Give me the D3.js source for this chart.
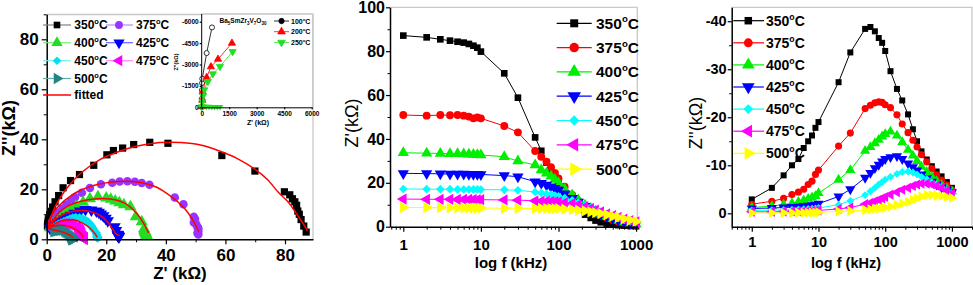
<!DOCTYPE html>
<html>
<head>
<meta charset="utf-8">
<script src="https://cdn.jsdelivr.net/npm/d3@7"></script>
<style>
  body { margin: 0; background: #fff; }
  svg { display: block; font-family: "Liberation Sans", Arial, sans-serif; }
  .axis path, .axis line { stroke: #000; }
</style>
</head>
<body>
<div id="chart"></div>
<script>
// ---- data ----
const temps = ["350", "375", "400", "425", "450", "475", "500"];
const freq = [1, 2, 3, 4, 5, 6, 7, 8, 9, 10, 20, 30, 50, 60, 70, 80, 90, 100, 120, 150, 180, 220, 260, 300, 350, 420, 500, 590, 700, 840, 1000];

// Z' (kOhm) per temperature
const zRe350 = [87.1, 86.3, 85.4, 84.8, 84.3, 83.9, 83.3, 82.5, 81.6, 79.8, 69.9, 58.8, 40.7, 34.6, 29.2, 25.5, 22.4, 20.2, 15.8, 11, 8, 5.5, 4, 2.8, 2, 1.4, 1, 0.7, 0.5, 0.35, 0.25];
const zRe375 = [50.9, 50.6, 50.9, 50.8, 50.9, 50.6, 50.2, 49.4, 49.8, 49.4, 45.9, 43, 34.5, 31.9, 29.6, 27.1, 24.5, 22, 18.2, 14.5, 11.8, 9.5, 8, 6.6, 5.3, 4.1, 3.1, 2.4, 1.8, 1.3, 0.9];
const zRe400 = [33.7, 33.5, 33.4, 33.3, 33.2, 33.1, 33, 32.9, 32.8, 32.7, 31.9, 29.9, 28.1, 25.9, 24.4, 23, 21.5, 20, 17.2, 14.5, 12.2, 9.8, 8.3, 7, 5.8, 4.7, 3.7, 2.9, 2.2, 1.6, 1.1];
const zRe425 = [24.3, 24.2, 24.1, 24, 24, 24, 23.9, 23.9, 23.9, 23.8, 23.3, 22.8, 20.5, 19.8, 19, 18.2, 17.5, 16.7, 15, 13, 11.2, 9.3, 8, 6.8, 5.7, 4.6, 3.7, 2.9, 2.2, 1.6, 1.1];
const zRe450 = [17.2, 17.1, 17.1, 17.1, 17, 17, 17, 17, 17, 16.9, 16.8, 16.6, 15.8, 15.4, 15, 14.6, 14.2, 13.8, 13, 12, 11, 9.7, 8.7, 7.8, 6.8, 5.8, 4.8, 3.9, 3.1, 2.4, 1.7];
const zRe475 = [12.6, 12.5, 12.5, 12.5, 12.4, 12.4, 12.4, 12.4, 12.3, 12.3, 12.2, 12.1, 11.8, 11.7, 11.6, 11.5, 11.4, 11.3, 11, 10.5, 10, 9.1, 8.3, 7.6, 6.7, 5.8, 5, 4.2, 3.5, 2.8, 2.2];
const zRe500 = [8.8, 8.7, 8.7, 8.6, 8.6, 8.6, 8.5, 8.5, 8.5, 8.5, 8.4, 8.4, 8.3, 8.3, 8.3, 8.2, 8.2, 8.2, 8, 7.8, 7.5, 7.2, 6.8, 6.4, 6, 5.4, 4.8, 4.2, 3.6, 3, 2.4];

// -Z'' (kOhm) per temperature
const zIm350 = [2.9, 5.3, 7.9, 10, 11.3, 13.6, 15, 16.2, 17.8, 19, 27.3, 33.5, 38.4, 38.8, 37.9, 36.5, 35.5, 33.8, 29.6, 25.9, 23.5, 20.6, 17.5, 15, 12.9, 11.2, 9.8, 8.7, 7.7, 6.5, 5.3];
const zIm375 = [1.9, 2.5, 3.1, 3.9, 4.4, 5, 6, 6.7, 8.1, 9, 14, 16.7, 21.8, 22.5, 23, 23.2, 23.1, 22.6, 22, 20.5, 18.6, 16.8, 15.2, 13.8, 12.2, 10.7, 9.3, 8, 6.9, 5.9, 4.9];
const zIm400 = [1.2, 1.5, 1.8, 2.1, 2.4, 2.7, 3, 3.3, 3.6, 4.2, 7, 9, 13, 13.8, 14.6, 15.3, 16, 16.5, 17, 16.2, 14.8, 13.2, 12, 10.9, 9.7, 8.6, 7.6, 6.7, 5.9, 5.2, 4.6];
const zIm425 = [1, 1.1, 1.2, 1.3, 1.4, 1.5, 1.6, 1.7, 1.8, 2, 3.5, 5, 7.4, 8.4, 9.4, 10.1, 10.8, 11.3, 11.7, 11.9, 11.3, 10.4, 9.6, 8.9, 8.1, 7.3, 6.6, 6, 5.4, 4.9, 4.4];
const zIm450 = [0.6, 0.65, 0.7, 0.75, 0.8, 0.85, 0.9, 0.95, 1, 1.1, 1.8, 2.6, 3.8, 4.6, 5.3, 6, 6.5, 7, 7.6, 8.2, 8.6, 8.7, 8.5, 8.1, 7.6, 7.1, 6.5, 6, 5.4, 4.8, 4.2];
const zIm475 = [0.3, 0.3, 0.35, 0.4, 0.4, 0.45, 0.5, 0.5, 0.55, 0.6, 0.9, 1.2, 1.9, 2.2, 2.5, 2.8, 3.1, 3.4, 3.9, 4.4, 4.9, 5.3, 5.7, 6, 6.2, 6.2, 6, 5.7, 5.3, 4.7, 4.1];
const zIm500 = [0.05, 0.06, 0.07, 0.08, 0.1, 0.1, 0.12, 0.13, 0.15, 0.2, 0.4, 0.5, 0.7, 0.8, 0.9, 1, 1.1, 1.2, 1.4, 1.7, 2, 2.4, 2.8, 3.1, 3.5, 3.8, 3.8, 3.7, 3.6, 3.4, 3.2];

// fitted Nyquist arcs [Z', -Z'']
const fit350 = [[0.5, 4.4], [1.5, 9], [3, 13.5], [5, 17.5], [7.5, 21.5], [12, 27], [18, 32], [24, 35], [30, 37.2], [38, 38.7], [45, 38.7], [52, 37.6], [58, 35.3], [64, 32.3], [70, 28], [74, 24], [78, 18.5], [81, 15], [84, 10], [86, 6.5], [87.5, 3.5]];
const fit375 = [[0.5, 4.4], [1.1, 8.4], [3.9, 13.1], [8.4, 17.7], [14.6, 21.1], [21.3, 22.8], [27, 23.2], [32, 22.6], [36.5, 21], [40.3, 18.4], [43.5, 15.5], [46.5, 12], [48.7, 8.4], [50.2, 5.2], [51, 3]];
const fit400 = [[0.5, 4.4], [1.5, 6.5], [3.9, 10.4], [6.7, 13.1], [11.2, 15.1], [16.8, 16.2], [21.3, 16.1], [26.3, 14.4], [30.2, 10.4], [32.5, 6.5], [34.2, 2.5]];
const fit425 = [[0.5, 4.4], [2, 7], [4.5, 9.3], [8, 11], [11.5, 11.5], [15, 11], [18, 9.5], [20.7, 6.5], [22.5, 3.5], [23.5, 2], [24.5, 1.5]];
const fit450 = [[0.5, 4.4], [3, 6.5], [6, 7.6], [9, 7.8], [12, 6.5], [14.5, 4.5], [16, 2.5], [17, 0.8]];
const fit475 = [[0.5, 4.4], [2.5, 5.3], [5, 5.6], [7.5, 5.2], [10, 3.8], [11.5, 2.2], [12.3, 0.8]];
const fit500 = [[0.5, 4.4], [2, 3.8], [4, 3.3], [6, 2.6], [7.8, 1.7], [8.9, 0.8]];

// inset (low temperature) [Z', Z'']
const ins100 = [[0, -30], [10, -600], [15, -1200], [20, -1700], [30, -2000], [270, -3800], [560, -5600]];
const ins200 = [[0, -50], [30, -500], [50, -1100], [270, -2100], [505, -2840], [890, -3375], [1650, -4500]];
const ins250 = [[0, -30], [40, -400], [70, -800], [135, -1220], [337, -1800], [607, -2340], [994, -2860], [1685, -3900]];
const insHigh = [[100, -60], [250, -50], [400, -45], [550, -40], [700, -35], [850, -30], [1000, -25]];

const zRe = [zRe350, zRe375, zRe400, zRe425, zRe450, zRe475, zRe500];
const zIm = [zIm350, zIm375, zIm400, zIm425, zIm450, zIm475, zIm500];
const fits = [fit350, fit375, fit400, fit425, fit450, fit475, fit500];

const shapes = ["square", "circle", "up", "down", "diamond", "left", "right"];
const colNyq = ["#000000", "#9933ff", "#22dd22", "#0000ff", "#00e0ee", "#ff00ff", "#1f8585"];
const colNyqLeg = ["#808080", "#bb88ff", "#77ee77", "#6666ff", "#77eeee", "#ff88ff", "#66aaaa"];
const colF = ["#000000", "#ff0000", "#00ee00", "#0000ff", "#00ffff", "#ff00ff", "#ffff00"];

// ---- helpers ----
const W = 973, H = 285;
const svg = d3.select("#chart").append("svg").attr("width", W).attr("height", H);

function marker(shape, k) {
    const base = { square: [d3.symbolSquare, 40, 0], circle: [d3.symbolCircle, 44, 0],
        up: [d3.symbolTriangle, 50, 0], down: [d3.symbolTriangle, 50, 180],
        left: [d3.symbolTriangle, 50, -90], right: [d3.symbolTriangle, 50, 90],
        diamond: [d3.symbolSquare, 34, 45] }[shape];
    return { d: d3.symbol().type(base[0]).size(base[1] * k)(), rot: base[2] };
}

function drawMarkers(g, pts, shape, k, fill, stroke) {
    const m = marker(shape, k);
    g.selectAll(null).data(pts).enter().append("path")
        .attr("d", m.d)
        .attr("transform", d => `translate(${d[0]},${d[1]}) rotate(${m.rot})`)
        .attr("fill", fill)
        .attr("stroke", stroke || "none")
        .attr("stroke-width", 0.8);
}

function degLabel(g, x, y, num, fs) {
    const t = g.append("text").attr("x", x).attr("y", y)
        .attr("font-size", fs).attr("font-weight", "bold").attr("fill", "#000");
    t.append("tspan").text(num);
    t.append("tspan").attr("dy", -0.42 * fs).attr("font-size", fs * 0.62).text("o");
    t.append("tspan").attr("dy", 0.42 * fs).text("C");
    return t;
}

function frame(x0, x1, y0, y1) {
    svg.append("polyline")
        .attr("points", `${x0},${y0} ${x1},${y0} ${x1},${y1}`)
        .attr("fill", "none").attr("stroke", "#c8c8c8").attr("stroke-width", 1.3);
}

function styleAxis(g, fs, weight) {
    g.attr("class", "axis");
    g.select(".domain").attr("stroke-width", 1.5);
    g.selectAll(".tick line").attr("stroke-width", 1.2);
    g.selectAll("text").attr("font-size", fs).attr("font-weight", weight || "bold")
        .attr("font-family", "Liberation Sans, Arial, sans-serif").attr("fill", "#000");
}

function minorAxis(axisFn, scale, vals, size, tr) {
    svg.append("g").attr("transform", tr)
        .call(axisFn(scale).tickValues(vals).tickSize(size).tickFormat("").tickSizeOuter(0))
        .call(g => g.select(".domain").remove())
        .selectAll("line").attr("stroke", "#000").attr("stroke-width", 1);
}

function logMinors(lo, hi) {
    const out = [];
    for (let e = -1; e <= 3; e++) {
        for (let m = 2; m <= 9; m++) {
            const v = m * Math.pow(10, e);
            if (v >= lo && v <= hi) out.push(v);
        }
    }
    return out;
}

// ================= Panel 1: Nyquist =================
const x1 = d3.scaleLinear().domain([0, 89.4]).range([46.7, 313]);
const y1 = d3.scaleLinear().domain([0, 90]).range([239.3, 14.3]);
frame(46.7, 313, 14.5, 239.3);

const p1 = svg.append("g");
temps.forEach((t, i) => {
    const pts = zRe[i].map((v, j) => [v, zIm[i][j]]);
    drawMarkers(p1, pts.map(d => [x1(d[0]), y1(d[1])]), shapes[i], 1.3, colNyq[i]);
});
const fitLine = d3.line().x(d => x1(d[0])).y(d => y1(d[1])).curve(d3.curveCatmullRom.alpha(0.5));
fits.forEach(f => {
    p1.append("path").datum(f).attr("d", fitLine).attr("fill", "none")
        .attr("stroke", "#ff0000").attr("stroke-width", 1.5);
});

const ax1b = svg.append("g").attr("transform", "translate(0,239.3)")
    .call(d3.axisBottom(x1).tickValues([0, 20, 40, 60, 80]).tickSize(5).tickPadding(5).tickSizeOuter(0));
styleAxis(ax1b, 17);
const ax1l = svg.append("g").attr("transform", "translate(46.7,0)")
    .call(d3.axisLeft(y1).tickValues([0, 20, 40, 60, 80]).tickSize(5).tickPadding(3).tickSizeOuter(0));
styleAxis(ax1l, 17);
minorAxis(d3.axisBottom, x1, [10, 30, 50, 70], 3, "translate(0,239.3)");
minorAxis(d3.axisLeft, y1, [10, 30, 50, 70, 90], 3, "translate(46.7,0)");

svg.append("text").attr("x", 180).attr("y", 279).attr("text-anchor", "middle")
    .attr("font-size", 17).attr("font-weight", "bold").text("Z' (k\u03A9)");
svg.append("text").attr("transform", "translate(15,128) rotate(-90)").attr("text-anchor", "middle")
    .attr("font-size", 18).attr("font-weight", "bold").text("Z''(k\u03A9)");

// legend panel 1
const leg1 = svg.append("g");
const leg1Pos = [[0, 25], [1, 25], [0, 42.7], [1, 42.7], [0, 60.7], [1, 60.7], [0, 78.5]];
const leg1Cols = [{ l0: 43, l1: 71, m: 57, t: 74.3 }, { l0: 106, l1: 133, m: 119, t: 136 }];
temps.forEach((t, i) => {
    const c = leg1Cols[leg1Pos[i][0]], y = leg1Pos[i][1];
    leg1.append("line").attr("x1", c.l0).attr("x2", c.l1).attr("y1", y).attr("y2", y)
        .attr("stroke", colNyqLeg[i]).attr("stroke-width", 1.2);
    drawMarkers(leg1, [[c.m, y]], shapes[i], 1.1, colNyq[i]);
    degLabel(leg1, c.t, y + 4.3, t, 12);
});
leg1.append("line").attr("x1", 43).attr("x2", 71).attr("y1", 95).attr("y2", 95)
    .attr("stroke", "#ff0000").attr("stroke-width", 1.5);
leg1.append("text").attr("x", 74.3).attr("y", 99.3).attr("font-size", 12).attr("font-weight", "bold").text("fitted");

// ---- inset ----
const xi = d3.scaleLinear().domain([0, 6000]).range([201.7, 311.7]);
const yi = d3.scaleLinear().domain([0, -6000]).range([107.3, 21.7]);
svg.append("rect").attr("x", 201.7).attr("y", 14).attr("width", 111).attr("height", 93.3).attr("fill", "#fff");
frame(201.7, 312.7, 14, 107.3);
const pi = svg.append("g");
const lineI = d3.line().x(d => xi(d[0])).y(d => yi(d[1]));
[[ins100, "#000000", "circle", "#fff"], [ins200, "#ff0000", "up", "#ff0000"], [ins250, "#22dd22", "down", "#22dd22"]].forEach(s => {
    pi.append("path").datum(s[0]).attr("d", lineI).attr("fill", "none").attr("stroke", s[1]).attr("stroke-width", 0.8);
    drawMarkers(pi, s[0].map(d => [xi(d[0]), yi(d[1])]), s[2], 0.45, s[3], s[1]);
});
pi.append("path").datum(insHigh).attr("d", lineI).attr("fill", "none").attr("stroke", "#22dd22").attr("stroke-width", 0.8);
drawMarkers(pi, insHigh.map(d => [xi(d[0]), yi(d[1])]), "down", 0.35, "#22dd22");

const axib = svg.append("g").attr("transform", "translate(0,107.3)")
    .call(d3.axisBottom(xi).tickValues([0, 1500, 3000, 4500, 6000]).tickFormat(d => String(d))
        .tickSize(2).tickPadding(2).tickSizeOuter(0));
styleAxis(axib, 6.5);
const axil = svg.append("g").attr("transform", "translate(201.7,0)")
    .call(d3.axisLeft(yi).tickValues([0, -1500, -3000, -4500, -6000]).tickFormat(d => String(d))
        .tickSize(2).tickPadding(1).tickSizeOuter(0));
styleAxis(axil, 6.5);
axib.select(".domain").attr("stroke-width", 1);
axil.select(".domain").attr("d", "M0,107.3V14").attr("stroke-width", 1);
svg.append("text").attr("x", 258).attr("y", 125).attr("text-anchor", "middle")
    .attr("font-size", 7).attr("font-weight", "bold").text("Z' (k\u03A9)");
svg.append("text").attr("transform", "translate(178,62) rotate(-90)").attr("text-anchor", "middle")
    .attr("font-size", 5.5).attr("font-weight", "bold").text("Z''(k\u03A9)");
const ti = svg.append("text").attr("x", 219.5).attr("y", 23).attr("font-size", 6.5).attr("font-weight", "bold");
[["Ba", 0], ["5", 1], ["SmZr", 0], ["3", 1], ["V", 0], ["7", 1], ["O", 0], ["30", 1]].forEach(p => {
    ti.append("tspan").attr("font-size", p[1] ? 4.5 : 6.5).attr("dy", p[1] ? 1.5 : -1.5).text(p[0]);
});
ti.select("tspan").attr("dy", 0);
const legI = svg.append("g");
[["100", "#000000", "circle", "#000"], ["200", "#ff0000", "up", "#ff0000"], ["250", "#22dd22", "down", "#22dd22"]].forEach((s, i) => {
    const y = 21 + i * 10.7;
    legI.append("line").attr("x1", 274).attr("x2", 289).attr("y1", y).attr("y2", y).attr("stroke", s[1]).attr("stroke-width", 0.8);
    drawMarkers(legI, [[281.5, y]], s[2], 0.5, s[3], s[1]);
    degLabel(legI, 291, y + 2.5, s[0], 7);
});

// ================= Panel 2: Z' vs log f =================
const x2 = d3.scaleLog().domain([0.674, 1036]).range([390, 637.3]);
const y2 = d3.scaleLinear().domain([0, 100]).range([226.7, 7.3]);
frame(390, 637.3, 7.3, 226.7);
const p2 = svg.append("g");
const line2 = d3.line().x(d => x2(d[0])).y(d => y2(d[1]));
temps.forEach((t, i) => {
    const pts = freq.map((f, j) => [f, zRe[i][j]]);
    p2.append("path").datum(pts).attr("d", line2).attr("fill", "none")
        .attr("stroke", colF[i]).attr("stroke-width", 1);
    drawMarkers(p2, pts.map(d => [x2(d[0]), y2(d[1])]), shapes[i], 1.1, colF[i]);
});
const ax2b = svg.append("g").attr("transform", "translate(0,226.7)")
    .call(d3.axisBottom(x2).tickValues([1, 10, 100, 1000]).tickFormat(d3.format("d")).tickSize(5).tickPadding(8).tickSizeOuter(0));
styleAxis(ax2b, 15);
const ax2l = svg.append("g").attr("transform", "translate(390,0)")
    .call(d3.axisLeft(y2).tickValues([0, 20, 40, 60, 80, 100]).tickSize(4).tickPadding(1).tickSizeOuter(0));
styleAxis(ax2l, 16);
minorAxis(d3.axisBottom, x2, logMinors(0.674, 1036), 3, "translate(0,226.7)");
minorAxis(d3.axisLeft, y2, [10, 30, 50, 70, 90], 2.5, "translate(390,0)");
svg.append("text").attr("x", 511).attr("y", 268).attr("text-anchor", "middle")
    .attr("font-size", 15).attr("font-weight", "bold").text("log f (kHz)");
svg.append("text").attr("transform", "translate(358,123) rotate(-90)").attr("text-anchor", "middle")
    .attr("font-size", 18).text("Z'(k\u03A9)");

const leg2 = svg.append("g");
temps.forEach((t, i) => {
    const y = 23.3 + i * 24.3;
    leg2.append("line").attr("x1", 556.7).attr("x2", 591.7).attr("y1", y).attr("y2", y)
        .attr("stroke", colF[i]).attr("stroke-width", 1.2);
    drawMarkers(leg2, [[574.2, y]], shapes[i], 1.6, colF[i]);
    degLabel(leg2, 596, y + 5.5, t, 15.5);
});

// ================= Panel 3: -Z'' vs log f =================
const x3 = d3.scaleLog().domain([0.5, 2000]).range([731.7, 972]);
const y3 = d3.scaleLinear().domain([2.79, -42.9]).range([226.7, 7.3]);
frame(731.7, 972, 7.3, 226.7);
const p3 = svg.append("g");
const line3 = d3.line().x(d => x3(d[0])).y(d => y3(d[1]));
temps.forEach((t, i) => {
    const pts = freq.map((f, j) => [f, -zIm[i][j]]);
    p3.append("path").datum(pts).attr("d", line3).attr("fill", "none")
        .attr("stroke", colF[i]).attr("stroke-width", 1);
    drawMarkers(p3, pts.map(d => [x3(d[0]), y3(d[1])]), shapes[i], 0.9, colF[i]);
});
const ax3b = svg.append("g").attr("transform", "translate(0,226.7)")
    .call(d3.axisBottom(x3).tickValues([1, 10, 100, 1000]).tickFormat(d3.format("d")).tickSize(5).tickPadding(5).tickSizeOuter(0));
styleAxis(ax3b, 14.5);
const ax3l = svg.append("g").attr("transform", "translate(731.7,0)")
    .call(d3.axisLeft(y3).tickValues([0, -10, -20, -30, -40]).tickFormat(d => String(d)).tickSize(4).tickPadding(1).tickSizeOuter(0));
styleAxis(ax3l, 14.5);
minorAxis(d3.axisBottom, x3, logMinors(0.5, 2000), 3, "translate(0,226.7)");
minorAxis(d3.axisLeft, y3, [-5, -15, -25, -35], 2.5, "translate(731.7,0)");
svg.append("text").attr("x", 846).attr("y", 268).attr("text-anchor", "middle")
    .attr("font-size", 14.5).attr("font-weight", "bold").text("log f (kHz)");
svg.append("text").attr("transform", "translate(702,123) rotate(-90)").attr("text-anchor", "middle")
    .attr("font-size", 18).text("Z''(k\u03A9)");

const leg3 = svg.append("g");
temps.forEach((t, i) => {
    const y = 20.7 + i * 22.1;
    leg3.append("line").attr("x1", 733.3).attr("x2", 764).attr("y1", y).attr("y2", y)
        .attr("stroke", colF[i]).attr("stroke-width", 1.2);
    drawMarkers(leg3, [[748.3, y]], shapes[i], 1.4, colF[i]);
    degLabel(leg3, 766, y + 5, t, 14);
});
</script>
</body>
</html>
